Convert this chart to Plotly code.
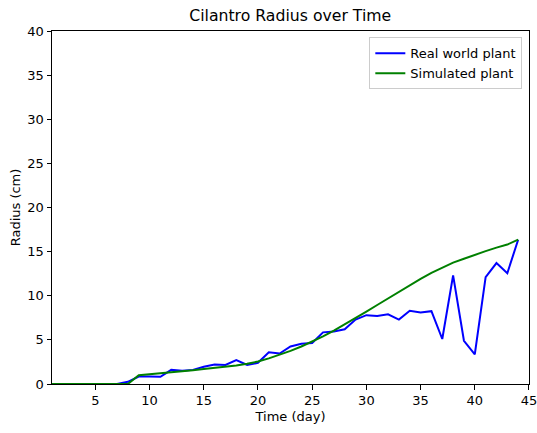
import plotly.graph_objects as go

days = list(range(1, 45))
real_radius = [0, 0, 0, 0, 0, 0, 0, 0.25, 0.85, 0.85, 0.82, 1.6, 1.5, 1.6, 1.95,
               2.2, 2.15, 2.7, 2.15, 2.4, 3.6, 3.45, 4.25, 4.55, 4.65, 5.85, 5.95,
               6.2, 7.3, 7.8, 7.7, 7.9, 7.3, 8.3, 8.1, 8.25, 5.1, 12.3, 4.9, 3.35,
               12.1, 13.7, 12.55, 16.35]
sim_radius = [0, 0, 0, 0, 0, 0, 0, 0, 1.0, 1.1, 1.2, 1.3, 1.4, 1.55, 1.7, 1.82,
              1.95, 2.1, 2.3, 2.55, 2.9, 3.3, 3.75, 4.25, 4.8, 5.4, 6.05, 6.75,
              7.45, 8.2, 8.95, 9.7, 10.45, 11.2, 11.9, 12.6, 13.2, 13.75, 14.2,
              14.65, 15.05, 15.45, 15.8, 16.35]
x_ticks = [5, 10, 15, 20, 25, 30, 35, 40, 45]
y_ticks = [0, 5, 10, 15, 20, 25, 30, 35, 40]

font = "DejaVu Sans"
fig = go.Figure()
fig.add_trace(go.Scatter(x=days, y=real_radius, mode="lines", name="Real world plant",
                         line=dict(color="#0000ff", width=2)))
fig.add_trace(go.Scatter(x=days, y=sim_radius, mode="lines", name="Simulated plant",
                         line=dict(color="#008000", width=2)))

axis_common = dict(showgrid=False, zeroline=False, showline=True, linecolor="black",
                   linewidth=1, mirror=True, ticks="outside", ticklen=4.5,
                   tickcolor="black", tickfont=dict(family=font, size=13, color="black"))
fig.update_layout(
    width=537, height=433,
    margin=dict(l=52, r=7.5, t=31, b=48.5),
    paper_bgcolor="white", plot_bgcolor="white",
    font=dict(family=font, size=13, color="black"),
    title=dict(text="Cilantro Radius over Time", x=0.5405, xanchor="center",
               y=1 - 15.5 / 433, yanchor="middle",
               font=dict(family=font, size=15.7, color="black")),
    xaxis=dict(range=[1, 45.0005], tickvals=x_ticks, automargin=False,
               ticklabeloverflow="allow",
               title=dict(text="Time (day)", standoff=4,
                          font=dict(family=font, size=13, color="black")),
               **axis_common),
    yaxis=dict(range=[0, 40], tickvals=y_ticks,
               title=dict(text="Radius (cm)", standoff=3,
                          font=dict(family=font, size=13, color="black")),
               **axis_common),
    legend=dict(x=0.986, y=0.982, xanchor="right", yanchor="top",
                bgcolor="rgba(255,255,255,0.8)", bordercolor="#cccccc", borderwidth=1,
                font=dict(family=font, size=13, color="black"),
                tracegroupgap=0, itemwidth=30),
    showlegend=True,
)
fig.write_html("out.html")
